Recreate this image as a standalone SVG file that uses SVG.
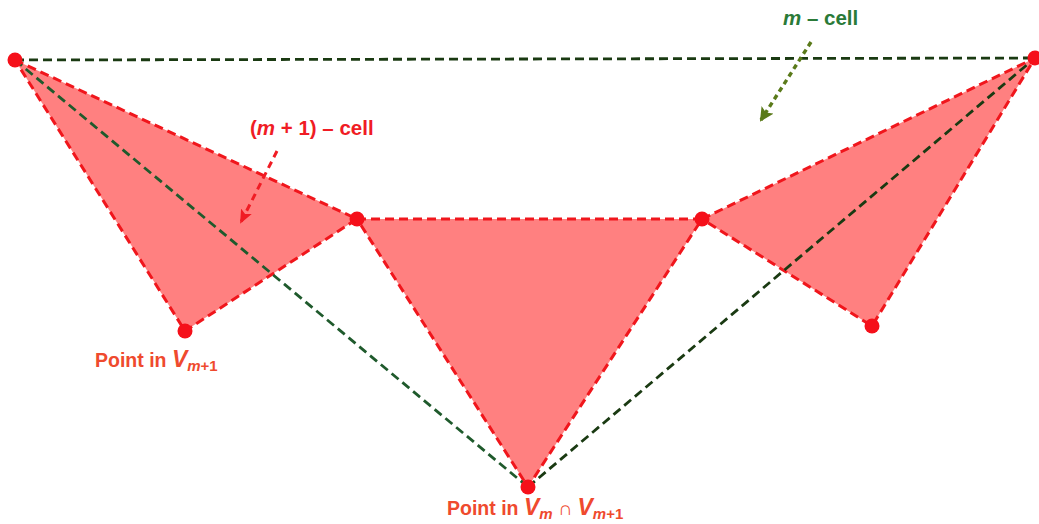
<svg xmlns="http://www.w3.org/2000/svg" width="1039" height="524" viewBox="0 0 1039 524">
<style>
.cell{fill:#ff8080;stroke:#f0161c;stroke-width:3;stroke-dasharray:9 5;stroke-linejoin:round}
.g{fill:none;stroke:#1a3a12;stroke-width:2.8;stroke-dasharray:9 5}
.g2{fill:none;stroke:#1f5a2c;stroke-width:2.8;stroke-dasharray:9 5}
.pt{fill:#f5101a}
.lbl{font-family:"Liberation Sans",Arial,sans-serif;font-weight:bold}
.red{fill:#f01c24}
.org{fill:#ef4a2e}
.grn{fill:#2a7a38}
</style>
<defs>
<marker id="ahr" markerWidth="14" markerHeight="12" refX="12" refY="6" orient="auto" markerUnits="userSpaceOnUse"><path d="M0,0 L14,6 L0,12 L3,6 Z" fill="#f01c24"/></marker>
<marker id="ahg" markerWidth="14" markerHeight="14" refX="12" refY="7" orient="auto" markerUnits="userSpaceOnUse"><path d="M0,0 L14,7 L0,14 L3,7 Z" fill="#5a7a1a"/></marker>
</defs>
<g id="cells">
<g id="cell-left"><polygon class="cell" points="15,60 357,219 185,331"/></g>
<g id="cell-mid"><polygon class="cell" points="357,219 702,219 528,487"/></g>
<g id="cell-right"><polygon class="cell" points="702,219 1035,58 872,326"/></g>
</g>
<g id="connectors">
<line class="g" x1="15" y1="60" x2="1035" y2="58"/>
<line class="g2" x1="15" y1="60" x2="528" y2="487"/>
<line class="g" x1="528" y1="487" x2="1035" y2="58"/>
<line x1="277" y1="151" x2="241" y2="222" stroke="#f01c24" stroke-width="3" stroke-dasharray="7 5" marker-end="url(#ahr)"/>
<line x1="811" y1="42" x2="761" y2="120" stroke="#5a7a1a" stroke-width="3.4" stroke-dasharray="5 4" marker-end="url(#ahg)"/>
</g>
<g id="points">
<circle class="pt" cx="15" cy="60" r="7.5"/>
<circle class="pt" cx="1035" cy="58" r="7.5"/>
<circle class="pt" cx="357" cy="219" r="7.5"/>
<circle class="pt" cx="702" cy="219" r="7.5"/>
<circle class="pt" cx="185" cy="331" r="7.5"/>
<circle class="pt" cx="872" cy="326" r="7.5"/>
<circle class="pt" cx="528" cy="487" r="7.5"/>
</g>
<g id="labels">
<text class="lbl red" x="250" y="135" font-size="20.5">(<tspan font-style="italic">m</tspan> + 1) – cell</text>
<text class="lbl grn" x="783" y="25" font-size="20.5"><tspan font-style="italic">m</tspan> – cell</text>
<text class="lbl org" x="95" y="367" font-size="19.5">Point in <tspan font-style="italic" font-size="23">V</tspan><tspan font-style="italic" font-size="15" dy="4">m</tspan><tspan font-size="15">+1</tspan></text>
<text class="lbl org" x="447" y="515" font-size="19.5">Point in <tspan font-style="italic" font-size="23">V</tspan><tspan font-style="italic" font-size="15" dy="4">m</tspan><tspan dy="-4"> ∩ </tspan><tspan font-style="italic" font-size="23">V</tspan><tspan font-style="italic" font-size="15" dy="4">m</tspan><tspan font-size="15">+1</tspan></text>
</g>
</svg>
